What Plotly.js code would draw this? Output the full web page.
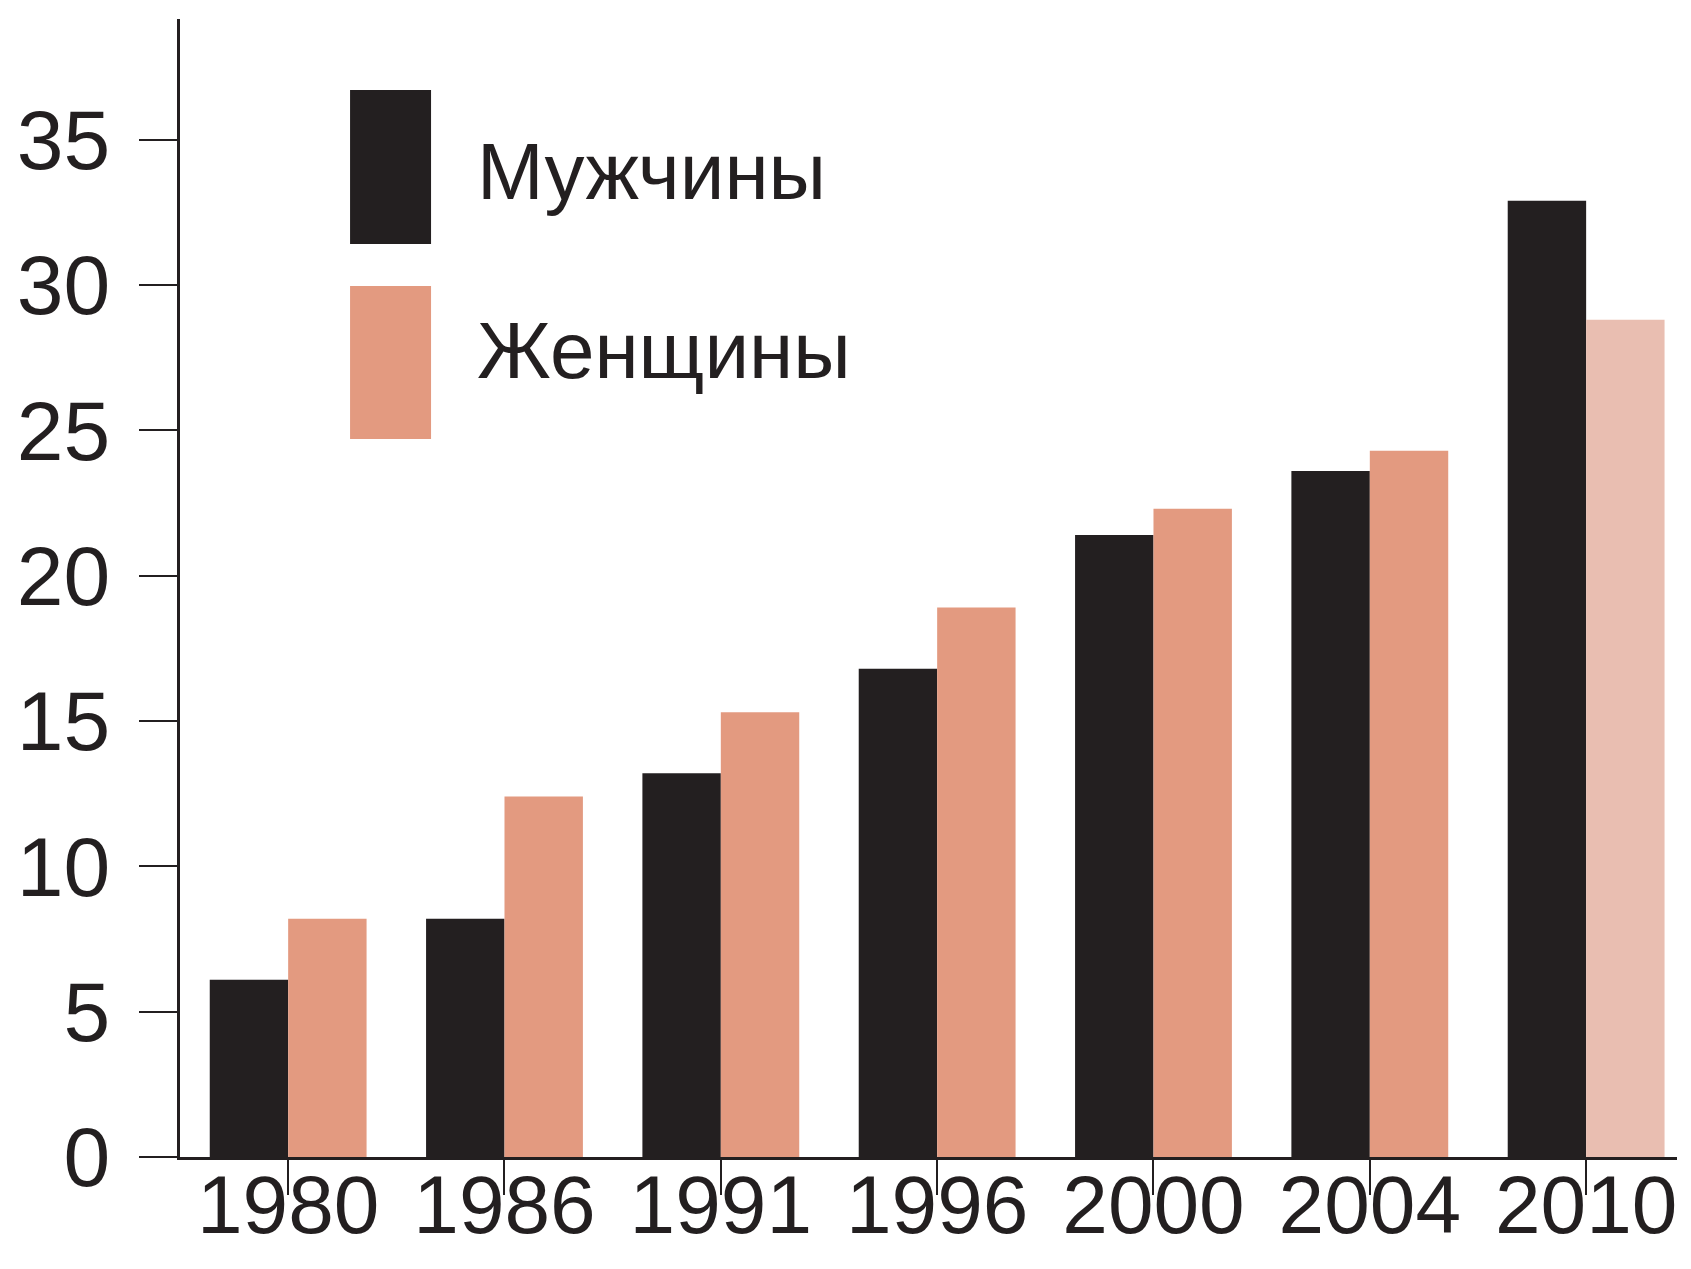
<!DOCTYPE html>
<html>
<head>
<meta charset="utf-8">
<script src="https://cdn.plot.ly/plotly-3.0.1.min.js"></script>
<style>
  html, body { margin: 0; padding: 0; background: #ffffff; }
  #chart { width: 1691px; height: 1269px; }
</style>
</head>
<body>
<div id="chart"></div>
<script>
// Survey years on the category axis
const years = ['1980', '1986', '1991', '1996', '2000', '2004', '2010'];

// Values per year, in percent
const men = [6.1, 8.2, 13.2, 16.8, 21.4, 23.6, 32.9];
const women = [8.2, 12.4, 15.3, 18.9, 22.3, 24.3, 28.8];

// Series names shown in the key
const seriesNames = ['Мужчины', 'Женщины'];

// Y axis tick values
const yTicks = [0, 5, 10, 15, 20, 25, 30, 35];

const INK = '#231f20';
const MEN_COLOR = '#231f20';
const WOMEN_COLOR = '#e39a80';
const WOMEN_LAST_COLOR = '#e9beb1';
const FONT = 'Liberation Sans, Arial, Helvetica, sans-serif';

// the latest women's bar is drawn in a paler tint
const womenColors = women.map((_, i) => i === women.length - 1 ? WOMEN_LAST_COLOR : WOMEN_COLOR);

const traces = [
  {
    type: 'bar',
    name: seriesNames[0],
    x: years,
    y: men,
    marker: { color: MEN_COLOR, line: { width: 0 } },
    hoverinfo: 'x+y'
  },
  {
    type: 'bar',
    name: seriesNames[1],
    x: years,
    y: women,
    marker: { color: womenColors, line: { width: 0 } },
    hoverinfo: 'x+y'
  }
];

// key: two tall swatches with labels, placed in the upper-left of the plot
const keySwatches = [
  { x0: 0.1136, x1: 0.1677, y0: 0.8023, y1: 0.9376, color: MEN_COLOR },
  { x0: 0.1136, x1: 0.1677, y0: 0.6309, y1: 0.7654, color: WOMEN_COLOR }
];

const shapes = keySwatches.map(s => ({
  type: 'rect', xref: 'paper', yref: 'paper',
  x0: s.x0, x1: s.x1, y0: s.y0, y1: s.y1,
  fillcolor: s.color, line: { width: 0 }, layer: 'above'
}));

const annotations = seriesNames.map((name, i) => ({
  xref: 'paper', yref: 'paper',
  x: 0.197, y: i === 0 ? 0.866 : 0.709,
  xanchor: 'left', yanchor: 'middle',
  text: name, showarrow: false,
  font: { family: FONT, size: 80, color: INK }
}));

const layout = {
  width: 1691,
  height: 1269,
  margin: { l: 180, r: 14, t: 19, b: 112, pad: 0 },
  paper_bgcolor: '#ffffff',
  plot_bgcolor: '#ffffff',
  showlegend: false,
  barmode: 'group',
  bargap: 0.275,
  bargroupgap: 0,
  font: { family: FONT, color: INK },
  xaxis: {
    type: 'category',
    range: [-0.5, 6.42],
    showgrid: false,
    zeroline: false,
    showline: true,
    linecolor: INK,
    linewidth: 3,
    ticks: 'outside',
    ticklen: 35,
    tickwidth: 2,
    tickcolor: INK,
    ticklabelstandoff: -60,
    tickfont: { family: FONT, size: 82, color: INK },
    fixedrange: true
  },
  yaxis: {
    range: [0, 39.15],
    tickvals: yTicks,
    ticktext: yTicks.map(String),
    showgrid: false,
    zeroline: false,
    showline: true,
    linecolor: INK,
    linewidth: 3,
    ticks: 'outside',
    ticklen: 38,
    tickwidth: 2,
    tickcolor: INK,
    ticklabelstandoff: 12,
    tickfont: { family: FONT, size: 84, color: INK },
    fixedrange: true
  },
  shapes: shapes,
  annotations: annotations
};

Plotly.newPlot('chart', traces, layout, { displayModeBar: false, staticPlot: true });
</script>
</body>
</html>
